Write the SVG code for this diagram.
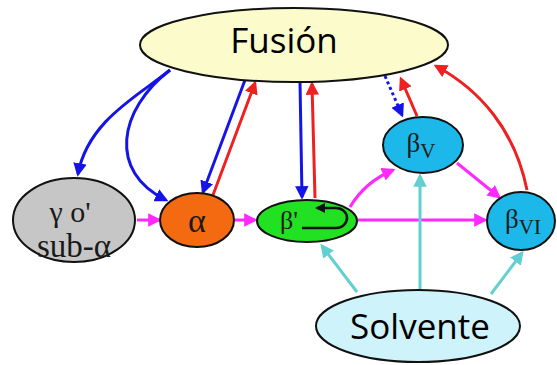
<svg xmlns="http://www.w3.org/2000/svg" width="557" height="365" viewBox="0 0 557 365">
<style>
.node{stroke:#111;stroke-width:2}
.lbl{font-family:"Liberation Serif","Times New Roman",serif;fill:#1a1a1a;text-anchor:middle}
.big{font-family:"Open Sans","Liberation Sans",sans-serif;fill:#000;text-anchor:middle;font-size:35px}
.c{fill:none;stroke-width:3}
.blue{stroke:#1414e6}
.red{stroke:#ee2020}
.mag{stroke:#ff28ff}
.cy{stroke:#62cfd2}
</style>
<defs>
<marker id="ab" viewBox="0 0 10 10" refX="8" refY="5" markerWidth="4.5" markerHeight="4.5" orient="auto" markerUnits="strokeWidth"><path d="M0,0 L10,5 L0,10 z" fill="#1414e6"/></marker>
<marker id="ar" viewBox="0 0 10 10" refX="8" refY="5" markerWidth="4.5" markerHeight="4.5" orient="auto" markerUnits="strokeWidth"><path d="M0,0 L10,5 L0,10 z" fill="#ee2020"/></marker>
<marker id="am" viewBox="0 0 10 10" refX="8" refY="5" markerWidth="4.5" markerHeight="4.5" orient="auto" markerUnits="strokeWidth"><path d="M0,0 L10,5 L0,10 z" fill="#ff28ff"/></marker>
<marker id="ac" viewBox="0 0 10 10" refX="8" refY="5" markerWidth="4.5" markerHeight="4.5" orient="auto" markerUnits="strokeWidth"><path d="M0,0 L10,5 L0,10 z" fill="#62cfd2"/></marker>
<marker id="ak" viewBox="0 0 10 10" refX="8" refY="5" markerWidth="4" markerHeight="4" orient="auto" markerUnits="strokeWidth"><path d="M0,0 L10,5 L0,10 z" fill="#111"/></marker>
</defs>

<g id="connectors">
<path class="c blue" d="M170,70 C140,95 88,120 78,174" marker-end="url(#ab)"/>
<path class="c blue" d="M170,70 C118,110 108,172 166,200" marker-end="url(#ab)"/>
<path class="c blue" d="M245,80 L203,192" marker-end="url(#ab)"/>
<path class="c red" d="M213,195 L255,83" marker-end="url(#ar)"/>
<path class="c blue" d="M300,82 L302,197" marker-end="url(#ab)"/>
<path class="c red" d="M315,198 L312,84" marker-end="url(#ar)"/>
<path class="c blue" d="M385,76 L402,115" stroke-dasharray="3,3" marker-end="url(#ab)"/>
<path class="c red" d="M417,116 L401,79" marker-end="url(#ar)"/>
<path class="c red" d="M527,190 C515,130 480,90 436,66" marker-end="url(#ar)"/>
<path class="c mag" d="M137,220 L159,220" marker-end="url(#am)"/>
<path class="c mag" d="M235,220 L255,220" marker-end="url(#am)"/>
<path class="c mag" d="M358,220 L485,220" marker-end="url(#am)"/>
<path class="c mag" d="M350,207 Q365,182 393,170" marker-end="url(#am)"/>
<path class="c mag" d="M457,163 L499,197" marker-end="url(#am)"/>
<path class="c cy" d="M357,292 L322,246" marker-end="url(#ac)"/>
<path class="c cy" d="M420,290 L420,176" marker-end="url(#ac)"/>
<path class="c cy" d="M491,294 L522,253" marker-end="url(#ac)"/>
</g>

<g id="fusion">
<ellipse class="node" cx="294" cy="45" rx="154" ry="37" fill="#fbfbcc"/>
<text class="big" x="284" y="53" font-size="36">Fusión</text>
</g>

<g id="gamma">
<ellipse class="node" cx="74" cy="220" rx="61" ry="42" fill="#c6c6c6"/>
<text class="lbl" x="70" y="222" font-size="30">γ o'</text>
<text class="lbl" x="74" y="257" font-size="33">sub-α</text>
</g>

<g id="alpha">
<ellipse class="node" cx="197" cy="220" rx="37" ry="27" fill="#f46a10"/>
<text class="lbl" x="197" y="232" font-size="34">α</text>
</g>

<g id="betaprime">
<ellipse class="node" cx="307" cy="221" rx="50" ry="21" fill="#22e022"/>
<text class="lbl" x="289" y="229" font-size="26">β'</text>
<path d="M302,228 L336,228 A11,10 0 0 0 336,208 L317,208" fill="none" stroke="#111" stroke-width="2.5" marker-end="url(#ak)"/>
</g>

<g id="betaV">
<ellipse class="node" cx="423" cy="145" rx="40" ry="28" fill="#1cb8ea"/>
<text class="lbl" x="421" y="152" font-size="27">β<tspan font-size="21" dy="6">V</tspan></text>
</g>

<g id="betaVI">
<ellipse class="node" cx="521" cy="221" rx="34" ry="29" fill="#1cb8ea"/>
<text class="lbl" x="523" y="228" font-size="27">β<tspan font-size="21" dy="6">VI</tspan></text>
</g>

<g id="solvente">
<ellipse class="node" cx="418" cy="326" rx="102" ry="36" fill="#cef3fa"/>
<text class="big" x="420" y="339">Solvente</text>
</g>
</svg>
